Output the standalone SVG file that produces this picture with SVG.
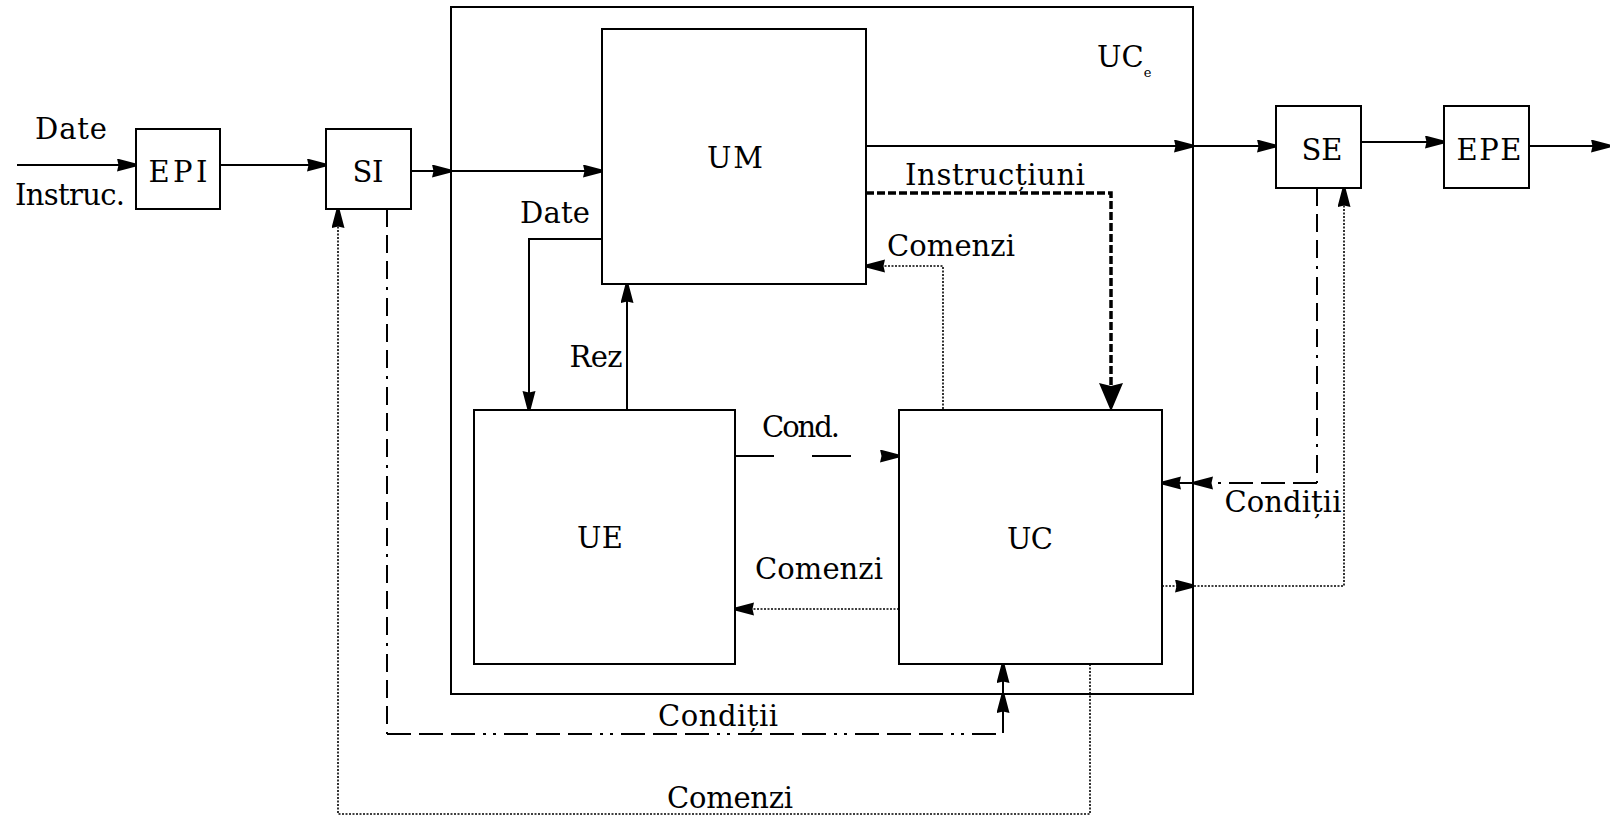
<svg xmlns="http://www.w3.org/2000/svg" width="1616" height="817" viewBox="0 0 1616 817">
<style>
.box{fill:#fff;stroke:#000;stroke-width:2}
.frame{fill:none;stroke:#000;stroke-width:2}
.t{font-family:"DejaVu Serif","Liberation Serif",serif;font-size:29px;fill:#000;text-anchor:middle}
.s{fill:none;stroke:#000;stroke-width:2}
.dot{fill:none;stroke:#000;stroke-width:1.6;stroke-dasharray:2 1.5}
.dd{fill:none;stroke:#000;stroke-width:2;stroke-dasharray:24 8 24 8 24 8 3 7 3 8}
.ddv{fill:none;stroke:#000;stroke-width:2;stroke-dasharray:18 8 18 8 18 8 3 8}
.ins{fill:none;stroke:#000;stroke-width:3.5;stroke-dasharray:8 3}
.cond{fill:none;stroke:#000;stroke-width:2;stroke-dasharray:39 38}
</style>
<defs>
<marker id="a" markerUnits="userSpaceOnUse" markerWidth="22" markerHeight="14" refX="19" refY="6.5" orient="auto">
<path d="M0,0 L19,5 L19,8 L0,13 L1.5,6.5 Z" fill="#000"/>
</marker>
<marker id="big" markerUnits="userSpaceOnUse" markerWidth="28" markerHeight="26" refX="26" refY="12" orient="auto">
<path d="M0,0 L26,11 L26,13 L0,24 L3,12 Z" fill="#000"/>
</marker>
</defs>

<g id="UCe">
<rect class="frame" x="451" y="7" width="742" height="687"/>
<text class="t" x="1097" y="67" style="text-anchor:start">UC<tspan font-size="13" dy="10">e</tspan></text>
</g>

<g id="connectors">
<path class="s" d="M17,165 H136" marker-end="url(#a)"/>
<path class="s" d="M220,165 H326" marker-end="url(#a)"/>
<path class="s" d="M411,171 H451" marker-end="url(#a)"/>
<path class="s" d="M451,171 H602" marker-end="url(#a)"/>
<path class="s" d="M866,146 H1193" marker-end="url(#a)"/>
<path class="s" d="M1193,146 H1276" marker-end="url(#a)"/>
<path class="s" d="M1361,142 H1444" marker-end="url(#a)"/>
<path class="s" d="M1529,146 H1610" marker-end="url(#a)"/>
<path class="ins" d="M866,193 H1111 V409" marker-end="url(#big)"/>
<path class="dot" d="M943,409 V266 H866" marker-end="url(#a)"/>
<path class="s" d="M602,239 H529 V410" marker-end="url(#a)"/>
<path class="s" d="M627,410 V284" marker-end="url(#a)"/>
<path class="cond" d="M735,456 H899" marker-end="url(#a)"/>
<path class="dot" d="M899,609 H735" marker-end="url(#a)"/>
<path class="ddv" d="M1317,188 V483"/>
<path class="dd" d="M1317,483 H1194" marker-end="url(#a)"/>
<path class="s" d="M1194,483 H1162" marker-end="url(#a)"/>
<path class="dot" d="M1162,586 H1194" marker-end="url(#a)"/>
<path class="dot" d="M1194,586 H1344 V188" marker-end="url(#a)"/>
<path class="ddv" d="M387,209 V734"/>
<path class="dd" d="M387,734 H1003 V694" marker-end="url(#a)"/>
<path class="s" d="M1003,694 V664" marker-end="url(#a)"/>
<path class="dot" d="M1090,664 V814 H338 V209" marker-end="url(#a)"/>
</g>

<g id="EPI">
<rect class="box" x="136" y="129" width="84" height="80"/>
<text class="t" x="178" y="182" textLength="59">EPI</text>
</g>
<g id="SI">
<rect class="box" x="326" y="129" width="85" height="80"/>
<text class="t" x="368" y="182" textLength="31">SI</text>
</g>
<g id="UM">
<rect class="box" x="602" y="29" width="264" height="255"/>
<text class="t" x="735" y="168" textLength="56">UM</text>
</g>
<g id="UE">
<rect class="box" x="474" y="410" width="261" height="254"/>
<text class="t" x="600" y="548" textLength="46">UE</text>
</g>
<g id="UC">
<rect class="box" x="899" y="410" width="263" height="254"/>
<text class="t" x="1030" y="549" textLength="46">UC</text>
</g>
<g id="SE">
<rect class="box" x="1276" y="106" width="85" height="82"/>
<text class="t" x="1322" y="160" textLength="41">SE</text>
</g>
<g id="EPE">
<rect class="box" x="1444" y="106" width="85" height="82"/>
<text class="t" x="1489" y="160" textLength="65">EPE</text>
</g>

<g id="labels">
<text class="t" x="71" y="139" textLength="72">Date</text>
<text class="t" x="70" y="205" textLength="110">Instruc.</text>
<text class="t" x="995" y="185" textLength="180">Instrucțiuni</text>
<text class="t" x="951" y="256" textLength="128">Comenzi</text>
<text class="t" x="555" y="223" textLength="70">Date</text>
<text class="t" x="596" y="367" textLength="53">Rez</text>
<text class="t" x="801" y="437" textLength="78">Cond.</text>
<text class="t" x="819" y="579" textLength="128">Comenzi</text>
<text class="t" x="1283" y="512" textLength="117">Condiții</text>
<text class="t" x="718" y="726" textLength="120">Condiții</text>
<text class="t" x="730" y="808" textLength="126">Comenzi</text>
</g>
</svg>
